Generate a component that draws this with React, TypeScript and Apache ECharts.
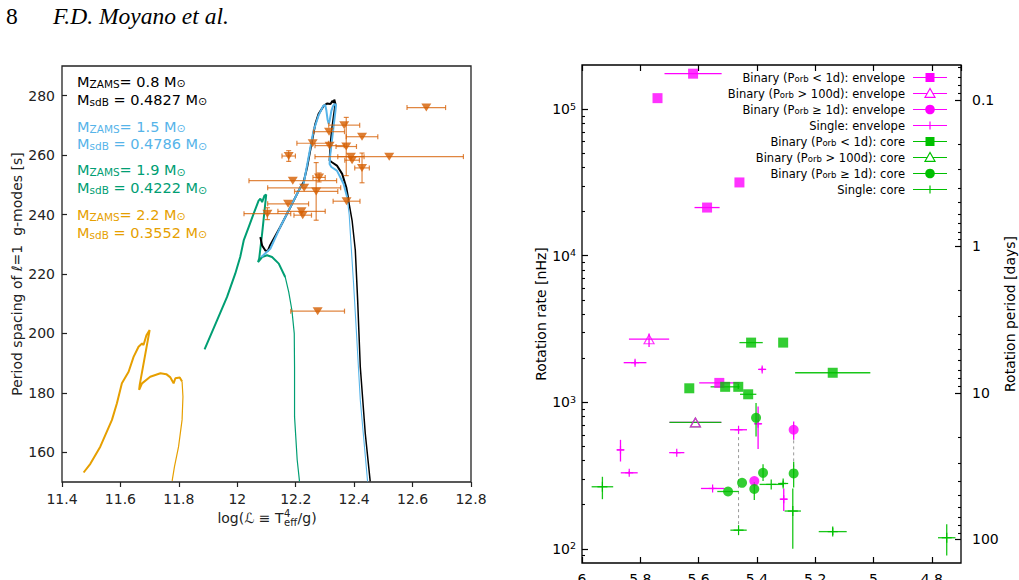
import React, { useEffect, useRef } from 'react';
import * as echarts from 'echarts';

const FONT = 'DejaVu Sans';
const SERIF = 'Liberation Serif';

// ---------------- Left panel: period spacing vs log(L) ----------------
// Evolutionary tracks, [log L, ΔΠ1 (s)]; "Upper" = thick part, "Tail" = thin descent
const track08Upper: number[][] = [
  [12.079, 232.4], [12.085, 229.6], [12.096, 227.9], [12.104, 227.7], [12.113, 229.8],
  [12.147, 235.8], [12.182, 242.5], [12.216, 249.2], [12.227, 250.9], [12.239, 255.9],
  [12.256, 264.9], [12.267, 270.5], [12.278, 273.8], [12.296, 276.6], [12.307, 277.4],
  [12.319, 277.2], [12.326, 278.3], [12.330, 277.6], [12.332, 278.7], [12.336, 277.2],
  [12.330, 273.0], [12.324, 268.5], [12.319, 263.5], [12.316, 258.2], [12.324, 257.6],
  [12.341, 256.5], [12.359, 253.7], [12.373, 249.2], [12.381, 244.7],
];
const track08Tail: number[][] = [
  [12.381, 244.7], [12.393, 238.0], [12.404, 228.0], [12.412, 211.2], [12.421, 188.8],
  [12.438, 166.4], [12.455, 150.2],
];
const track15Upper: number[][] = [
  [12.082, 225.7], [12.113, 228.5], [12.147, 235.8], [12.182, 242.5], [12.216, 249.2],
  [12.227, 250.3], [12.244, 259.3], [12.261, 268.2], [12.278, 273.3], [12.294, 276.6],
  [12.301, 276.9], [12.305, 275.0], [12.309, 272.0], [12.313, 270.5], [12.316, 271.5],
  [12.322, 274.9], [12.328, 276.6], [12.333, 277.2], [12.338, 276.9], [12.336, 274.9],
  [12.330, 270.0], [12.324, 265.0], [12.318, 260.0], [12.316, 257.0], [12.322, 256.0],
  [12.341, 254.8], [12.364, 250.3], [12.376, 245.8],
];
const track15Tail: number[][] = [
  [12.376, 245.8], [12.383, 240.0], [12.387, 233.6], [12.398, 216.8], [12.408, 200.1],
  [12.421, 177.6], [12.446, 150.2],
];
const track19Upper: number[][] = [
  [11.888, 194.6], [11.931, 204.5], [11.965, 212.3], [11.993, 220.1], [12.010, 225.7],
  [12.022, 231.3], [12.039, 235.8], [12.056, 240.3], [12.073, 244.7], [12.079, 245.3],
  [12.085, 244.2], [12.093, 246.4], [12.099, 246.7], [12.085, 233.6], [12.075, 225.2],
  [12.071, 224.0], [12.085, 225.7], [12.102, 226.3], [12.119, 225.7], [12.142, 223.5],
  [12.164, 219.0],
];
const track19Tail: number[][] = [
  [12.164, 219.0], [12.176, 214.0], [12.187, 207.8], [12.195, 200.0], [12.196, 188.8],
  [12.196, 172.0], [12.205, 157.5], [12.213, 150.2],
];
const track22Upper: number[][] = [
  [11.474, 153.2], [11.497, 156.1], [11.531, 161.9], [11.571, 170.9], [11.588, 176.5],
  [11.605, 183.2], [11.628, 187.1], [11.645, 192.1], [11.662, 195.5], [11.674, 196.6],
  [11.679, 196.1], [11.689, 199.4], [11.700, 201.1], [11.666, 182.7], [11.664, 181.0],
  [11.674, 183.2], [11.702, 185.4], [11.737, 186.6], [11.757, 186.3], [11.771, 185.2],
  [11.782, 183.2], [11.788, 184.9], [11.803, 185.2], [11.811, 183.8],
];
const track22Tail: number[][] = [
  [11.811, 183.8], [11.814, 178.7], [11.811, 170.9], [11.799, 161.9], [11.785, 155.2],
  [11.777, 150.4],
];

const zamsMasses = ['0.8', '1.5', '1.9', '2.2'];
const sdbMasses = ['0.4827', '0.4786', '0.4222', '0.3552'];

// Observed sdB stars
const obsLogL = [12.647, 12.366, 12.427, 12.314, 12.258, 12.316, 12.373, 12.389, 12.393, 12.520,
  12.427, 12.176, 12.190, 12.280, 12.270, 12.229, 12.174, 12.220, 12.224, 12.103, 12.374, 12.275];
const obsDeltaP = [276.0, 270.1, 266.2, 267.9, 264.0, 263.2, 262.9, 259.5, 258.3, 259.5,
  255.7, 259.7, 251.4, 252.5, 247.8, 249.0, 243.6, 241.1, 239.8, 240.3, 244.5, 207.5];
const obsLogLErr = [0.066, 0.053, 0.054, 0.053, 0.054, 0.050, 0.035, 0.045, 0.025, 0.254,
  0.025, 0.023, 0.150, 0.021, 0.074, 0.125, 0.070, 0.081, 0.030, 0.080, 0.046, 0.092];
const obsDeltaPErr = [0, 0, 0, 0, 0, 0, 9.8, 0, 0, 0,
  5.0, 1.8, 0, 1.5, 9.7, 0, 0, 0, 0, 2.0, 0, 0];

// ---------------- Right panel: rotation rates (nHz) vs log g ----------------
const envShortX = [5.619, 5.741, 5.460, 5.571, 5.529];
const envShortRate = [174500, 118800, 31600, 21300, 1355];
const envShortXErr = [0.098, 0, 0, 0.043, 0.069];

const envLongX = [5.770, 5.611];
const envLongRate = [2692, 728];
const envLongXErr = [0.069, 0.089];
const envLongRateLo = [2383, 728];
const envLongRateHi = [2944, 728];

const envWideX = [5.274, 5.409];
const envWideRate = [649, 290];
const envWideRateLo = [554, 290];
const envWideRateHi = [740, 290];

const envSingleX = [5.818, 5.382, 5.868, 5.838, 5.675, 5.463, 5.396, 5.552, 5.308];
const envSingleRate = [1862, 1675, 473, 330, 453, 649, 713, 258, 218];
const envSingleXErr = [0.039, 0.012, 0.012, 0.029, 0.026, 0.029, 0.012, 0.040, 0.012];
const envSingleRateLo = [1800, 1620, 394, 322, 445, 640, 479, 252, 181];
const envSingleRateHi = [1930, 1730, 554, 338, 461, 658, 937, 264, 258];

const coreShortX = [5.420, 5.310, 5.140, 5.632, 5.509, 5.464, 5.430];
const coreShortRate = [2552, 2552, 1589, 1245, 1274, 1274, 1133];
const coreShortXErr = [0.040, 0, 0.129, 0, 0.050, 0, 0.028];
const coreShortRateLo = [2552, 2552, 1589, 1245, 1274, 1230, 1133];
const coreShortRateHi = [2552, 2552, 1589, 1245, 1274, 1330, 1133];

const coreLongX = [5.611];
const coreLongRate = [728];
const coreLongXErr = [0.089];

const coreWideX = [5.403, 5.379, 5.274, 5.451, 5.499, 5.409];
const coreWideRate = [783, 330, 327, 282, 246, 256];
const coreWideXErr = [0, 0, 0, 0, 0.037, 0];
const coreWideRateLo = [583, 290, 262, 282, 246, 215];
const coreWideRateHi = [989, 378, 393, 282, 246, 286];

const coreSingleX = [5.930, 5.351, 5.310, 5.277, 5.463, 5.140, 4.749];
const coreSingleRate = [265, 275, 279, 181, 134, 131, 119];
const coreSingleXErr = [0.037, 0.040, 0.010, 0.028, 0.028, 0.048, 0.030];
const coreSingleRateLo = [218, 275, 265, 100, 134, 124, 90];
const coreSingleRateHi = [310, 275, 292, 258, 134, 139, 147];

// Stars with both a core and an envelope rate, joined by a dashed line
const linkedX = [5.463, 5.274];
const linkedLo = [134, 327];
const linkedHi = [649, 649];

const legendLabels = [
  'Binary (P{s|orb} < 1d): envelope',
  'Binary (P{s|orb} > 100d): envelope',
  'Binary (P{s|orb} ≥ 1d): envelope',
  'Single: envelope',
  'Binary (P{s|orb} < 1d): core',
  'Binary (P{s|orb} > 100d): core',
  'Binary (P{s|orb} ≥ 1d): core',
  'Single: core',
];

const MAGENTA = '#ff00ff';
const GREEN = '#00c000';
const TRACK_COLORS = ['#000000', '#56b4e9', '#009e73', '#e69f00'];
const OBS_COLOR = '#d55e00';

const RATE_MIN = 80;
const RATE_MAX = 2e5;
const NHZ_DAY = 1e9 / 86400; // rate (nHz) × period (d)
const P_MIN = NHZ_DAY / RATE_MAX;
const P_MAX = NHZ_DAY / RATE_MIN;

function logMinorTicks(lo: number, hi: number): number[] {
  const out: number[] = [];
  for (let e = -3; e <= 6; e++) {
    for (let m = 2; m <= 9; m++) {
      const v = m * Math.pow(10, e);
      if (v > lo * 1.001 && v < hi * 0.999) out.push(Number(v.toPrecision(3)));
    }
  }
  return out;
}

function textWidth(text: string, size: number, italic = false, family = FONT) {
  const ctx = document.createElement('canvas').getContext('2d') as CanvasRenderingContext2D;
  ctx.font = `${italic ? 'italic ' : ''}${size}px "${family}"`;
  return ctx.measureText(text).width;
}

type Row = number[];

function errorRows(xs: number[], ys: number[], xErr?: number[], yLo?: number[], yHi?: number[]): Row[] {
  return xs.map((x, i) => {
    const xe = xErr ? xErr[i] : 0;
    return [x, ys[i], x - xe, x + xe, yLo ? yLo[i] : ys[i], yHi ? yHi[i] : ys[i]];
  });
}

function errorSeries(rows: Row[], color: string, xi: number, yi: number,
  opts: { cap?: number; plus?: number; width?: number; opacity?: number }) {
  const cap = opts.cap || 0;
  const plus = opts.plus || 0;
  const width = opts.width || 1;
  return {
    type: 'custom',
    xAxisIndex: xi,
    yAxisIndex: yi,
    data: rows,
    silent: true,
    z: 3,
    encode: { x: 0, y: 1 },
    renderItem: (_params: any, api: any) => {
      const x = api.value(0);
      const y = api.value(1);
      const c = api.coord([x, y]);
      const l = api.coord([api.value(2), y]);
      const r = api.coord([api.value(3), y]);
      const b = api.coord([x, api.value(4)]);
      const t = api.coord([x, api.value(5)]);
      const style = { stroke: color, lineWidth: width, opacity: opts.opacity ?? 1 };
      const kids: any[] = [];
      const seg = (x1: number, y1: number, x2: number, y2: number) =>
        kids.push({ type: 'line', shape: { x1, y1, x2, y2 }, style });
      if (Math.abs(r[0] - l[0]) > 0.5) {
        seg(l[0], c[1], r[0], c[1]);
        if (cap) {
          seg(l[0], c[1] - cap, l[0], c[1] + cap);
          seg(r[0], c[1] - cap, r[0], c[1] + cap);
        }
      }
      if (Math.abs(t[1] - b[1]) > 0.5) {
        seg(c[0], b[1], c[0], t[1]);
        if (cap) {
          seg(c[0] - cap, b[1], c[0] + cap, b[1]);
          seg(c[0] - cap, t[1], c[0] + cap, t[1]);
        }
      }
      if (plus) {
        const ps = { stroke: color, lineWidth: 1.2 };
        kids.push({ type: 'line', shape: { x1: c[0] - plus, y1: c[1], x2: c[0] + plus, y2: c[1] }, style: ps });
        kids.push({ type: 'line', shape: { x1: c[0], y1: c[1] - plus, x2: c[0], y2: c[1] + plus }, style: ps });
      }
      return { type: 'group', children: kids };
    },
  };
}

function trackSeries(data: number[][], color: string, width: number) {
  return {
    type: 'line',
    xAxisIndex: 0,
    yAxisIndex: 0,
    data,
    showSymbol: false,
    symbol: 'none',
    silent: true,
    lineStyle: { color, width },
    z: 2,
  };
}

function markerSeries(xs: number[], ys: number[], symbol: string, size: any, itemStyle: any, z = 4) {
  return {
    type: 'scatter',
    xAxisIndex: 1,
    yAxisIndex: 1,
    data: xs.map((x, i) => [x, ys[i]]),
    symbol,
    symbolSize: size,
    itemStyle,
    silent: true,
    z,
  };
}

function buildOption() {
  const graphic: any[] = [];

  // Running header
  graphic.push({ type: 'text', x: 6, y: 16, style: { text: '8', font: `23.5px "${SERIF}"`, fill: '#000', verticalAlign: 'middle' } });
  graphic.push({ type: 'text', x: 53, y: 16, style: { text: 'F.D. Moyano et al.', font: `italic 23.5px "${SERIF}"`, fill: '#000', verticalAlign: 'middle' } });

  // Track labels in the left panel
  const blockY = [81.7, 126.5, 170.3, 214.8];
  zamsMasses.forEach((m, i) => {
    const color = TRACK_COLORS[i];
    const rich = {
      m: { fontSize: 14.5, fontFamily: FONT, fill: color },
      s: { fontSize: 10.5, fontFamily: FONT, fill: color, verticalAlign: 'bottom' },
      o: { fontSize: 11, fontFamily: FONT, fill: color, verticalAlign: 'bottom' },
    };
    graphic.push({ type: 'text', x: 77, y: blockY[i], style: { text: `{m|M}{s|ZAMS}{m|= ${m} M}{o|⊙}`, rich, verticalAlign: 'middle' } });
    graphic.push({ type: 'text', x: 77, y: blockY[i] + 17.8, style: { text: `{m|M}{s|sdB}{m| = ${sdbMasses[i]} M}{o|⊙}`, rich, verticalAlign: 'middle' } });
  });

  // x-axis title of the left panel: log(ℒ ≡ T⁴_eff / g) with stacked super/subscript
  const fs = 14;
  const fsSmall = 10;
  const partA = 'log(ℒ ≡ T';
  const partC = '/g)';
  const wA = textWidth(partA, fs);
  const wS = Math.max(textWidth('4', fsSmall), textWidth('eff', fsSmall));
  const wC = textWidth(partC, fs);
  const x0 = 266.5 - (wA + wS + wC) / 2;
  const yName = 518;
  const nameStyle = { font: `${fs}px "${FONT}"`, fill: '#222', verticalAlign: 'middle' };
  graphic.push({ type: 'text', x: x0, y: yName, style: { ...nameStyle, text: partA } });
  graphic.push({ type: 'text', x: x0 + wA + 0.5, y: yName - 5, style: { font: `${fsSmall}px "${FONT}"`, fill: '#222', verticalAlign: 'middle', text: '4' } });
  graphic.push({ type: 'text', x: x0 + wA + 0.5, y: yName + 4, style: { font: `${fsSmall}px "${FONT}"`, fill: '#222', verticalAlign: 'middle', text: 'eff' } });
  graphic.push({ type: 'text', x: x0 + wA + wS + 1, y: yName, style: { ...nameStyle, text: partC } });

  // Key of the right panel
  const keyMarkers = ['square', 'triangle', 'circle', 'plus', 'square', 'triangle', 'circle', 'plus'];
  legendLabels.forEach((label, i) => {
    const y = 77.5 + 16 * i;
    const color = i < 4 ? MAGENTA : GREEN;
    graphic.push({
      type: 'text', x: 905, y,
      style: {
        text: label, align: 'right', verticalAlign: 'middle', font: `11.5px "${FONT}"`, fill: '#000',
        rich: { s: { fontSize: 8.5, fontFamily: FONT, fill: '#000', verticalAlign: 'bottom' } },
      },
    });
    graphic.push({ type: 'line', shape: { x1: 913, y1: y, x2: 947, y2: y }, style: { stroke: color, lineWidth: 1.2 } });
    const mk = keyMarkers[i];
    if (mk === 'square') graphic.push({ type: 'rect', shape: { x: 925.5, y: y - 4.5, width: 9, height: 9 }, style: { fill: color } });
    if (mk === 'circle') graphic.push({ type: 'circle', shape: { cx: 930, cy: y, r: 4.8 }, style: { fill: color } });
    if (mk === 'triangle') graphic.push({ type: 'polygon', shape: { points: [[930, y - 5], [925, y + 3.8], [935, y + 3.8]] }, style: { fill: '#fff', stroke: color, lineWidth: 1.2 } });
    if (mk === 'plus') graphic.push({ type: 'line', shape: { x1: 930, y1: y - 4, x2: 930, y2: y + 4 }, style: { stroke: color, lineWidth: 1.2 } });
  });

  const axisText = { color: '#222', fontSize: 14, fontFamily: FONT };
  const noLine = { show: false, onZero: false };

  const rateMinor = logMinorTicks(RATE_MIN, RATE_MAX);
  const periodMinor = logMinorTicks(P_MIN, P_MAX);

  const series: any[] = [
    trackSeries(track22Upper, TRACK_COLORS[3], 2),
    trackSeries(track22Tail, TRACK_COLORS[3], 1.2),
    trackSeries(track19Upper, TRACK_COLORS[2], 2),
    trackSeries(track19Tail, TRACK_COLORS[2], 1.2),
    trackSeries(track08Upper, TRACK_COLORS[0], 2),
    trackSeries(track08Tail, TRACK_COLORS[0], 1.5),
    trackSeries(track15Upper, TRACK_COLORS[1], 2),
    trackSeries(track15Tail, TRACK_COLORS[1], 1.1),
    errorSeries(
      obsLogL.map((x, i) => [x, obsDeltaP[i], x - obsLogLErr[i], x + obsLogLErr[i], obsDeltaP[i] - obsDeltaPErr[i], obsDeltaP[i] + obsDeltaPErr[i]]),
      OBS_COLOR, 0, 0, { cap: 2.5, width: 1.2, opacity: 0.75 },
    ),
    {
      type: 'scatter', xAxisIndex: 0, yAxisIndex: 0, silent: true, z: 4,
      data: obsLogL.map((x, i) => [x, obsDeltaP[i]]),
      symbol: 'triangle', symbolRotate: 180, symbolSize: [10, 8],
      itemStyle: { color: OBS_COLOR },
    },

    // dashed links between core and envelope of the same star
    ...linkedX.map((x, i) => ({
      type: 'line', xAxisIndex: 1, yAxisIndex: 1, silent: true, z: 2, symbol: 'none',
      data: [[x, linkedLo[i]], [x, linkedHi[i]]],
      lineStyle: { color: '#9a9a9a', width: 1, type: [3, 3] },
    })),

    // envelope rates
    errorSeries(errorRows(envShortX, envShortRate, envShortXErr), MAGENTA, 1, 1, { width: 1.3 }),
    errorSeries(errorRows(envLongX, envLongRate, envLongXErr, envLongRateLo, envLongRateHi), MAGENTA, 1, 1, { width: 1.3 }),
    errorSeries(errorRows(envWideX, envWideRate, undefined, envWideRateLo, envWideRateHi), MAGENTA, 1, 1, { width: 1.3 }),
    errorSeries(errorRows(envSingleX, envSingleRate, envSingleXErr, envSingleRateLo, envSingleRateHi), MAGENTA, 1, 1, { width: 1.3, plus: 4 }),
    markerSeries(envShortX, envShortRate, 'rect', 10, { color: MAGENTA }),
    markerSeries(envWideX, envWideRate, 'circle', 10, { color: MAGENTA }),

    // core rates
    errorSeries(errorRows(coreShortX, coreShortRate, coreShortXErr, coreShortRateLo, coreShortRateHi), GREEN, 1, 1, { width: 1.3, opacity: 0.9 }),
    errorSeries(errorRows(coreLongX, coreLongRate, coreLongXErr), GREEN, 1, 1, { width: 1.3, opacity: 0.9 }),
    errorSeries(errorRows(coreWideX, coreWideRate, coreWideXErr, coreWideRateLo, coreWideRateHi), GREEN, 1, 1, { width: 1.3, opacity: 0.9 }),
    errorSeries(errorRows(coreSingleX, coreSingleRate, coreSingleXErr, coreSingleRateLo, coreSingleRateHi), GREEN, 1, 1, { width: 1.3, plus: 5, opacity: 0.9 }),
    markerSeries(coreShortX, coreShortRate, 'rect', 10, { color: GREEN }),
    markerSeries(coreWideX, coreWideRate, 'circle', 10, { color: GREEN }),
    markerSeries(coreLongX, coreLongRate, 'triangle', [10, 9], { color: 'rgba(255,255,255,0)', borderColor: GREEN, borderWidth: 1.2 }, 5),
    markerSeries(envLongX, envLongRate, 'triangle', [10, 9], { color: 'rgba(255,255,255,0)', borderColor: MAGENTA, borderWidth: 1.2 }, 6),
  ];

  const gridCommon = { show: true, backgroundColor: 'transparent', containLabel: false, outerBoundsMode: 'none' };

  return {
    animation: false,
    backgroundColor: '#ffffff',
    textStyle: { fontFamily: FONT },
    graphic,
    grid: [
      { ...gridCommon, left: 62, top: 66, width: 409, height: 416, borderColor: '#222', borderWidth: 1.3 },
      { ...gridCommon, left: 582, top: 65, width: 379, height: 498, borderColor: '#000', borderWidth: 1.3 },
    ],
    xAxis: [
      {
        gridIndex: 0, type: 'value', min: 11.4, max: 12.8, interval: 0.2, position: 'bottom',
        axisLine: noLine, splitLine: { show: false },
        axisTick: { show: true, inside: false, length: 5, lineStyle: { color: '#222', width: 1.2 } },
        axisLabel: { ...axisText, margin: 10 },
      },
      {
        gridIndex: 1, type: 'value', min: 4.7, max: 6, splitNumber: 6, inverse: true, position: 'bottom',
        axisLine: noLine, splitLine: { show: false },
        axisTick: { show: true, inside: true, length: 6, lineStyle: { color: '#000', width: 1.2 } },
        axisLabel: { ...axisText, color: '#000', margin: 9, showMinLabel: false },
      },
      {
        gridIndex: 1, type: 'value', min: 4.7, max: 6, splitNumber: 6, inverse: true, position: 'top',
        axisLine: noLine, splitLine: { show: false },
        axisTick: { show: true, inside: true, length: 6, lineStyle: { color: '#000', width: 1.2 } },
        axisLabel: { show: false },
      },
    ],
    yAxis: [
      {
        gridIndex: 0, type: 'value', min: 150, max: 290, splitNumber: 7, position: 'left',
        name: 'Period spacing of ℓ=1  g-modes [s]', nameLocation: 'middle', nameGap: 38, nameRotate: 90,
        nameTextStyle: { ...axisText },
        axisLine: noLine, splitLine: { show: false },
        axisTick: { show: true, inside: true, length: 5, lineStyle: { color: '#222', width: 1.2 } },
        axisLabel: { ...axisText, margin: 7, showMinLabel: false, showMaxLabel: false },
      },
      {
        gridIndex: 1, type: 'log', logBase: 10, min: RATE_MIN, max: RATE_MAX, position: 'left',
        name: 'Rotation rate [nHz]', nameLocation: 'middle', nameGap: 34, nameRotate: 90,
        nameTextStyle: { ...axisText, color: '#000' },
        axisLine: noLine, splitLine: { show: false },
        axisTick: { show: true, inside: true, length: 6, lineStyle: { color: '#000', width: 1.2 } },
        axisLabel: {
          ...axisText, color: '#000', margin: 6, showMinLabel: false, showMaxLabel: false,
          formatter: (v: number) => `10{p|${Math.round(Math.log10(v))}}`,
          rich: { p: { fontSize: 9.5, color: '#000', fontFamily: FONT, verticalAlign: 'top', padding: [0, 0, 6, 0] } },
        },
      },
      {
        gridIndex: 1, type: 'log', logBase: 10, min: RATE_MIN, max: RATE_MAX, position: 'left',
        axisLine: noLine, splitLine: { show: false },
        axisTick: { show: true, inside: true, length: 3, customValues: rateMinor, lineStyle: { color: '#000', width: 1.1 } },
        axisLabel: { show: false },
      },
      {
        gridIndex: 1, type: 'log', logBase: 10, min: P_MIN, max: P_MAX, inverse: true, position: 'right',
        name: 'Rotation period [days]', nameLocation: 'middle', nameGap: 33, nameRotate: 90,
        nameTextStyle: { ...axisText, color: '#000' },
        axisLine: noLine, splitLine: { show: false },
        axisTick: { show: true, inside: true, length: 6, lineStyle: { color: '#000', width: 1.2 } },
        axisLabel: {
          ...axisText, color: '#000', margin: 11, showMinLabel: false, showMaxLabel: false,
          formatter: (v: number) => String(Number(v.toPrecision(2))),
        },
      },
      {
        gridIndex: 1, type: 'log', logBase: 10, min: P_MIN, max: P_MAX, inverse: true, position: 'right',
        axisLine: noLine, splitLine: { show: false },
        axisTick: { show: true, inside: true, length: 3, customValues: periodMinor, lineStyle: { color: '#000', width: 1.1 } },
        axisLabel: { show: false },
      },
    ],
    series,
  };
}

export default function App() {
  const ref = useRef<HTMLDivElement>(null);
  useEffect(() => {
    const el = ref.current;
    if (!el) return;
    const chart = echarts.init(el, undefined, { renderer: 'svg' });
    chart.setOption(buildOption() as any);
    return () => chart.dispose();
  }, []);
  return (
    <div
      ref={ref}
      style={{ position: 'fixed', left: 0, top: 0, width: 1019, height: 580, background: '#ffffff' }}
    />
  );
}
